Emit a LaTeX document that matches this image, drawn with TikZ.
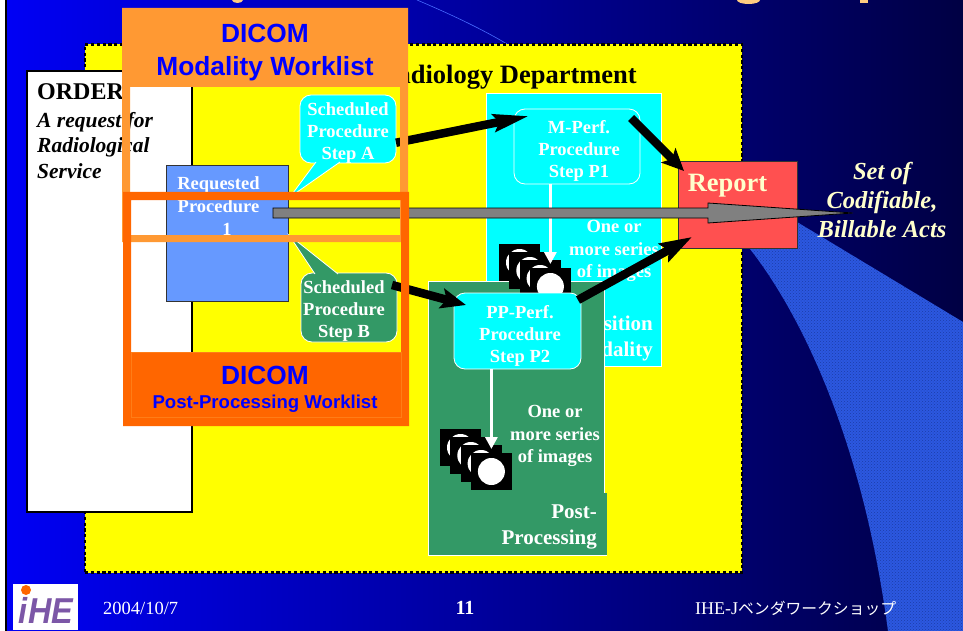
\documentclass[tikz,border=0pt]{standalone}
\usepackage{fontspec}
\setmainfont{Liberation Serif}
\newfontfamily\arialfont{Liberation Sans}
\newfontfamily\jpfont{Noto Sans CJK JP}
\usetikzlibrary{arrows.meta,patterns}

\definecolor{pureblue}{RGB}{0,0,255}
\definecolor{purecyan}{RGB}{0,255,255}
\definecolor{pureyellow}{RGB}{255,255,0}
\definecolor{darkgreen}{HTML}{339966}
\definecolor{reqblue}{HTML}{6699FF}
\definecolor{lightorange}{HTML}{FF9933}
\definecolor{darkorange}{HTML}{FF6600}
\definecolor{reportred}{HTML}{FF5050}
\definecolor{paleyellow}{HTML}{FFFFCC}
\definecolor{dotblue}{HTML}{2C58E0}
\definecolor{dotspeck}{HTML}{1C3CA8}
\definecolor{titlegold}{HTML}{FFCC80}
\definecolor{logopurple}{HTML}{5C2D91}
\pgfdeclarehorizontalshading{slidebg}{100bp}{color(0bp)=(pureblue); color(22bp)=(pureblue); color(94bp)=(black); color(100bp)=(black)}

\tikzset{
	boxnode/.style={rectangle,inner sep=0pt,outer sep=0pt},
	stepbox/.style={boxnode,draw=white,line width=0.8pt,fill=purecyan,rounded corners=11pt},
	steptext/.style={font=\fontsize{18.5}{22.3}\selectfont\bfseries,text=white,align=center,inner sep=0pt},
	orangetext/.style={font=\arialfont\fontsize{26.3}{33}\selectfont\bfseries,text=pureblue,align=center,inner sep=0pt},
	imgsquare/.style={boxnode,fill=black,minimum width=41pt,minimum height=37pt},
	imgdot/.style={circle,fill=white,inner sep=0pt,minimum size=27pt},
	bigarrow/.style 2 args={line width=8.5pt,black,-{Stealth[length=#1,width=#2,inset=5pt]}},
	whitearrow/.style={line width=3.2pt,white,-{Triangle[length=12pt,width=12pt]},shorten >=4pt},
}

\begin{document}
\begin{tikzpicture}[x=1pt,y=-1pt]
			\useasboundingbox (0,0) rectangle (963,631);
			% slide background
			\fill[white] (0,0) rectangle (7,631);
			\fill[black] (5,0) rectangle (7,631);
			\shade[shading=slidebg] (7,0) rectangle (963,631);
			\fill[dotblue] (750,249) .. controls (790,300) and (860,420) .. (888,631) -- (963,631) -- (963,322) -- (797,222) -- cycle;
			\fill[pattern=crosshatch dots,pattern color=dotspeck] (750,249) .. controls (790,300) and (860,420) .. (888,631) -- (963,631) -- (963,322) -- (797,222) -- cycle;
			\draw[reqblue!70!pureblue,line width=0.6pt] (417,0) .. controls (450,14) and (480,28) .. (507,44);
			% what is left of the title
			\fill[titlegold] (237.5,0) ellipse (5.5 and 3);
			\fill[titlegold] (748.5,0) ellipse (11.5 and 4);
			\fill[titlegold] (860,0) rectangle (868,3);
			
			\node[boxnode,draw=black,dash pattern=on 3.2pt off 2.6pt,line width=2.7pt,fill=pureyellow,minimum width=657pt,minimum height=528pt] (dept) at (413.5,308.5) {};
			\node[boxnode,draw=black,line width=2.5pt,fill=white,minimum width=165pt,minimum height=441pt] (order) at (109.5,291.5) {};
			\node[inner sep=0pt,anchor=base west,font=\fontsize{24}{26}\selectfont\bfseries] (ordertitle) at (37,100) {ORDER};
			\node[inner sep=0pt,anchor=north west,align=left,font=\fontsize{21.5}{25.5}\selectfont\bfseries\itshape] (ordertext) at (37,112) {A request for\\Radiological\\Service};
			\node[inner sep=0pt,anchor=base east,font=\fontsize{26.5}{30}\selectfont\bfseries] (depttitle) at (637,84) {Radiology Department};
			
			% acquisition modality
			\node[boxnode,draw=white,line width=0.8pt,fill=purecyan,minimum width=175pt,minimum height=273pt] (acq) at (573.5,230) {};
			\node[inner sep=0pt,anchor=east,align=right,text=white,font=\fontsize{21}{26}\selectfont\bfseries] (acqtext) at (653,338) {Acquisition\\Modality};
			\node[stepbox,minimum width=126pt,minimum height=75pt] (mperf) at (577,146.5) {};
			\node[steptext] (mperftext) at (579,151) {M-Perf.\\Procedure\\Step P1};
			\node[steptext] (acqseries) at (614,251) {One or\\more series\\of images};
			
			% post-processing
			\node[boxnode,draw=white,line width=0.8pt,fill=darkgreen,minimum width=176pt,minimum height=274pt] (post) at (516.5,418) {};
			\node[boxnode,fill=darkgreen,minimum width=110pt,minimum height=62pt] (postlabel) at (552,524) {};
			\draw[white,line width=0.8pt] (post.south east) -- (postlabel.south east);
			\node[inner sep=0pt,anchor=east,align=right,text=white,font=\fontsize{21}{26}\selectfont\bfseries] (posttext) at (597,527) {Post-\\Processing};
			\node[steptext] (postseries) at (555,436) {One or\\more series\\of images};
			
			\foreach \sx/\sy/\sn in {519.5/262.5/A, 460.5/447.5/B}  % two stacks of images
			{	\foreach \i in {0,...,3}
				{	\node[imgsquare] (img\sn\i) at ({\sx+10.3*\i},{\sy+8*\i}) {};
					\node[imgdot] (dot\sn\i) at (img\sn\i) {};}}
			
			\node[stepbox,minimum width=127pt,minimum height=76pt] (ppperf) at (517.5,331) {};
			\node[steptext] (ppperftext) at (520,336) {PP-Perf.\\Procedure\\Step P2};
			\draw[whitearrow] (mperf.south -| imgA3.center) -- (imgA3.north);
			\draw[whitearrow] (ppperf.south -| imgB3.center) -- (imgB3.north);
			
			% requested procedure and its steps
			\node[boxnode,draw=black!80,line width=0.8pt,fill=reqblue,minimum width=122pt,minimum height=136pt] (req) at (227,233) {};
			\node[steptext,font=\fontsize{18.5}{23}\selectfont\bfseries] (reqtext) at (218.5,206.5) {Requested\\Procedure\\\hspace*{17pt}1};
			
			\coordinate (tipA) at (290,197);
			\coordinate (tipB) at (289,235);
			\node[stepbox,minimum width=96pt,minimum height=68pt] (stepA) at (348,129) {};
			\draw[white,line width=0.8pt,fill=purecyan] ([shift={(-32,-1)}]stepA.south) -- (tipA) -- ([shift={(-8,-1)}]stepA.south);
			\node[steptext] (stepAtext) at (348,133) {Scheduled\\Procedure\\Step A};
			\node[stepbox,fill=darkgreen,minimum width=96pt,minimum height=69pt] (stepB) at (349,307.5) {};
			\draw[white,line width=0.8pt,fill=darkgreen] ([shift={(-34,1)}]stepB.north) -- (tipB) -- ([shift={(-11,1)}]stepB.north);
			\node[steptext] (stepBtext) at (344,311) {Scheduled\\Procedure\\Step B};
			
			% report
			\node[boxnode,draw=black!80,line width=0.8pt,fill=reportred,minimum width=119pt,minimum height=87pt] (report) at (737.5,204.5) {};
			\node[inner sep=0pt,text=paleyellow,font=\fontsize{26.5}{30}\selectfont\bfseries] (reporttext) at (727.5,186) {Report};
			\node[inner sep=0pt,align=center,text=paleyellow,font=\fontsize{24.5}{29}\selectfont\bfseries\itshape] (acts) at (882,200) {Set of\\Codifiable,\\Billable Acts};
			
			\draw[bigarrow={35pt}{17pt}] (stepA.-16) -- ([shift={(15,7)}]mperf.north west);
			\draw[bigarrow={22pt}{20pt}] ([shift={(-9,9)}]mperf.north east) -- ([shift={(6,10)}]report.north west);
			\draw[bigarrow={25pt}{20pt}] ([shift={(-5,12)}]stepB.north east) -- ([shift={(12,12)}]ppperf.north west);
			\draw[bigarrow={32pt}{20pt}] ([shift={(-3,7)}]ppperf.north east) -- ([shift={(14,-11)}]report.south west);
			
			% grey arrow through the request
			\coordinate (actstart) at (273,213);
			\coordinate (actend) at (853,213);
			\draw[black,line width=0.8pt,fill=gray] (actstart) ++(0,-5) -- ++(435,0) -- ++(0,-5) -- (actend) -- ++(-145,10) -- ++(0,-5) -- ++(-435,0) -- cycle;
			
			% worklist frames
			\fill[lightorange,even odd rule] (122,8) rectangle (408,242) (130,87) rectangle (400,235);
			\node[orangetext] (modtitle) at (265,53) {DICOM\\Modality Worklist};
			\fill[darkorange,even odd rule] (123,192) rectangle (409,426) (131,200) rectangle (401,352);
			\draw[lightorange!45!darkorange,line width=0.4pt] (131,352) rectangle (401,417);
			\node[orangetext,anchor=base] (posttitle) at (265,384) {DICOM};
			\node[orangetext,anchor=base,font=\arialfont\fontsize{18.6}{22}\selectfont\bfseries] (postlist) at (265,408) {Post-Processing Worklist};
			
			% footer
			\node[boxnode,fill=white,minimum width=65pt,minimum height=46pt] (logo) at (45.5,607) {};
			\node[inner sep=0pt,anchor=base,text=logopurple,font=\arialfont\fontsize{36}{36}\selectfont\bfseries\itshape,xscale=0.9,opacity=0.8] (logotext) at (46,623) {iHE};
			\node[circle,fill=orange!80!red,inner sep=0pt,minimum size=10pt] (logodot) at (26,590) {};
			\node[inner sep=0pt,anchor=base west,text=white,font=\fontsize{18.5}{22}\selectfont] (date) at (103,614) {2004/10/7};
			\node[inner sep=0pt,anchor=base,text=white,font=\fontsize{20}{22}\selectfont\bfseries] (pagenum) at (465,614) {11};
			\node[inner sep=0pt,anchor=base west,text=white,font=\fontsize{18}{22}\selectfont] (workshop) at (695,614) {IHE-J{\jpfont\fontsize{15.8}{22}\selectfont ベンダワークショップ}};
		\end{tikzpicture}
\end{document}
